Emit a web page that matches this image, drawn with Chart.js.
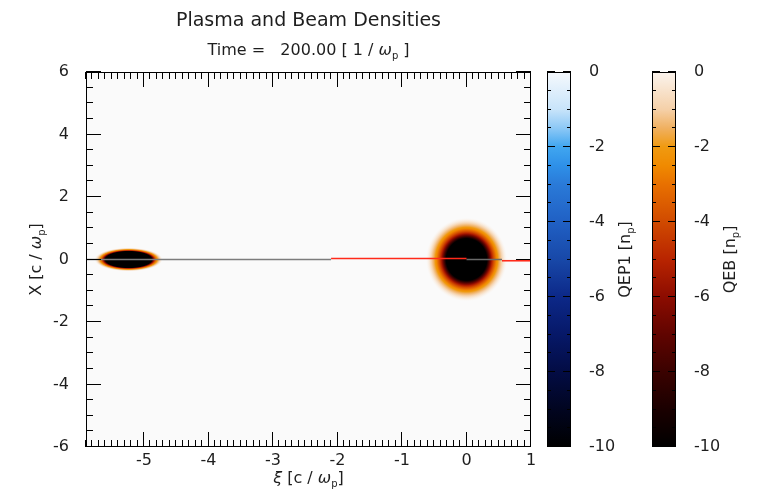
<!DOCTYPE html>
<html><head><meta charset="utf-8">
<script src="https://cdn.jsdelivr.net/npm/chart.js@4/dist/chart.umd.min.js"></script>
<style>
html,body{margin:0;padding:0;background:#fff;}
#wrap{position:relative;width:762px;height:492px;overflow:hidden;}
#wrap canvas{position:absolute;top:0;}
</style></head><body>
<div id="wrap">
<canvas id="main" width="762" height="492" style="left:0;width:762px;height:492px"></canvas>
<canvas id="cb1" width="100" height="492" style="left:540px;width:100px;height:492px"></canvas>
<canvas id="cb2" width="117" height="492" style="left:645px;width:117px;height:492px"></canvas>
</div>
<script>
// ---- data ----
const xiTickValues = [-5, -4, -3, -2, -1, 0, 1];
const xTickValues = [-6, -4, -2, 0, 2, 4, 6];
const cbTickValues = [0, -2, -4, -6, -8, -10];
const xiRange = [-5.9, 1];
const xRange = [-6, 6];
const cbRange = [-10, 0];

const plasmaXi = [-5.9, -2.1];
const plasmaX = [0, 0];
const lineoutXi1 = [-2.1, 0.0];
const lineoutX1 = [0.03, 0.03];
const coreXi = [0.0, 0.55];
const coreX = [0, 0];
const lineoutXi2 = [0.55, 1.0];
const lineoutX2 = [-0.04, -0.04];

const beamXi = [-5.24, 0.0];
const beamX = [0, 0];
const beamHalfXi = [0.53, 0.63];
const beamHalfX = [0.38, 1.34];
const beamPeak = [-207, -32];
const beamEdgeLevel = -0.3;

const cmapLevels = [0, -1, -1.5, -2, -2.5, -3, -4, -5, -6, -7, -8, -9, -10];
const qep1Colors = ['#f6f9fd','#c8e4fa','#8cc8f6','#40a6f0','#2e90e8','#2a7ad8','#2060c4','#1848a8','#0c2888','#061868','#030c44','#010520','#000000'];
const qebColors  = ['#fbf4ee','#f5d0a8','#f0b060','#f09a10','#f08a00','#e87000','#d04a00','#b82400','#8c0c00','#600400','#3a0200','#1a0000','#000000'];

const titleText = 'Plasma and Beam Densities';
const FONT = "'DejaVu Sans', 'Liberation Sans', sans-serif";
const TXT = '#1e1e1e';

// ---- helpers ----
function segFont(seg, size) {
  const s = seg[1] === 'sub' ? Math.round(size * 0.62) : size;
  return (seg[1] === 'it' ? 'italic ' : '') + s + 'px ' + FONT;
}
function drawRich(ctx, segs, x, y, size, align) {
  let total = 0;
  const ws = segs.map(seg => { ctx.font = segFont(seg, size); const w = ctx.measureText(seg[0]).width; total += w; return w; });
  let cx = align === 'center' ? x - total / 2 : x;
  ctx.textAlign = 'left';
  ctx.textBaseline = 'alphabetic';
  segs.forEach((seg, i) => {
    ctx.font = segFont(seg, size);
    ctx.fillText(seg[0], cx, seg[1] === 'sub' ? y + size * 0.22 : y);
    cx += ws[i];
  });
}
function hexA(hex, a) {
  const n = parseInt(hex.slice(1), 16);
  return 'rgba(' + (n >> 16) + ',' + ((n >> 8) & 255) + ',' + (n & 255) + ',' + a + ')';
}

// ---- main chart plugin ----
const mainDecor = {
  id: 'mainDecor',
  beforeDraw(chart) {
    const {ctx, chartArea: a} = chart;
    ctx.save();
    ctx.fillStyle = '#fafafa';
    ctx.fillRect(a.left, a.top, a.right - a.left, a.bottom - a.top);
    ctx.restore();
  },
  beforeDatasetsDraw(chart) {
    const {ctx, chartArea: a} = chart;
    const xs = chart.scales.x, ys = chart.scales.y;
    ctx.save();
    ctx.beginPath();
    ctx.rect(a.left, a.top, a.right - a.left, a.bottom - a.top);
    ctx.clip();
    for (let b = 0; b < beamXi.length; b++) {
      const cx = xs.getPixelForValue(beamXi[b]);
      const cy = ys.getPixelForValue(beamX[b]);
      const rx = Math.abs(xs.getPixelForValue(beamXi[b] + beamHalfXi[b]) - cx);
      const ry = Math.abs(ys.getPixelForValue(beamX[b] + beamHalfX[b]) - cy);
      ctx.save();
      ctx.translate(cx, cy);
      ctx.scale(rx, ry);
      const g = ctx.createRadialGradient(0, 0, 0, 0, 0, 1);
      const lnEdge = Math.log(beamPeak[b] / beamEdgeLevel);
      g.addColorStop(0, qebColors[qebColors.length - 1]);
      for (let i = cmapLevels.length - 1; i >= 1; i--) {
        const r = Math.sqrt(Math.log(beamPeak[b] / cmapLevels[i]) / lnEdge);
        g.addColorStop(Math.min(1, Math.max(0, r)), qebColors[i]);
      }
      g.addColorStop(1, hexA(qebColors[0], 0));
      ctx.fillStyle = g;
      ctx.beginPath();
      ctx.arc(0, 0, 1, 0, Math.PI * 2);
      ctx.fill();
      ctx.restore();
    }
    ctx.restore();
  },
  afterDraw(chart) {
    const {ctx, chartArea: a} = chart;
    const xs = chart.scales.x, ys = chart.scales.y;
    ctx.save();
    ctx.strokeStyle = '#000';
    ctx.lineWidth = 1;
    ctx.strokeRect(a.left + 0.5, a.top + 0.5, a.right - a.left - 1, a.bottom - a.top - 1);
    ctx.beginPath();
    for (let k = Math.ceil(xiRange[0] * 10); k <= Math.floor(xiRange[1] * 10); k++) {
      const v = k / 10;
      const major = xiTickValues.includes(v);
      const px = Math.round(xs.getPixelForValue(v)) - 0.5;
      const len = major ? 15 : 7;
      ctx.moveTo(px, a.bottom); ctx.lineTo(px, a.bottom - len);
      ctx.moveTo(px, a.top); ctx.lineTo(px, a.top + len);
    }
    for (let k = xRange[0] * 2; k <= xRange[1] * 2; k++) {
      const v = k / 2;
      const major = xTickValues.includes(v);
      const py = Math.round(ys.getPixelForValue(v)) - 0.5;
      const len = major ? 15 : 7;
      ctx.moveTo(a.left, py); ctx.lineTo(a.left + len, py);
      ctx.moveTo(a.right, py); ctx.lineTo(a.right - len, py);
    }
    ctx.stroke();
    ctx.fillStyle = TXT;
    const mid = (a.left + a.right) / 2;
    ctx.font = '19px ' + FONT;
    ctx.textAlign = 'center';
    ctx.textBaseline = 'alphabetic';
    ctx.fillText(titleText, mid, 26);
    drawRich(ctx, [['Time =   200.00 [ 1 / ', ''], ['ω', 'it'], ['p', 'sub'], [' ]', '']], mid, 55, 16, 'center');
    drawRich(ctx, [['ξ', 'it'], [' [c / ', ''], ['ω', 'it'], ['p', 'sub'], [']', '']], mid, 483, 16, 'center');
    ctx.save();
    ctx.translate(41, (a.top + a.bottom) / 2);
    ctx.rotate(-Math.PI / 2);
    drawRich(ctx, [['X [c / ', ''], ['ω', 'it'], ['p', 'sub'], [']', '']], 0, 0, 16, 'center');
    ctx.restore();
    ctx.restore();
  }
};

function lineDs(xiArr, xArr, color) {
  return {
    data: xiArr.map((v, i) => ({x: v, y: xArr[i]})),
    showLine: true, borderColor: color, borderWidth: 1.6, pointRadius: 0, fill: false
  };
}

new Chart(document.getElementById('main'), {
  type: 'scatter',
  data: {
    datasets: [
      lineDs(plasmaXi, plasmaX, '#7c7c7c'),
      lineDs(lineoutXi1, lineoutX1, '#ff2a1a'),
      lineDs(coreXi, coreX, '#6a6a6a'),
      lineDs(lineoutXi2, lineoutX2, '#ff2a1a')
    ]
  },
  options: {
    responsive: false, animation: false, events: [],
    layout: {padding: {left: 0, top: 72, right: 231, bottom: 0}},
    plugins: {legend: {display: false}, tooltip: {enabled: false}, title: {display: false}},
    scales: {
      x: {
        type: 'linear', min: xiRange[0], max: xiRange[1],
        afterBuildTicks: s => { s.ticks = xiTickValues.map(v => ({value: v})); },
        afterFit: s => { s.height = 45; },
        grid: {display: false}, border: {display: false},
        ticks: {padding: -4, color: TXT, font: {family: FONT, size: 16}, maxRotation: 0, autoSkip: false}
      },
      y: {
        type: 'linear', min: xRange[0], max: xRange[1],
        afterBuildTicks: s => { s.ticks = xTickValues.map(v => ({value: v})); },
        afterFit: s => { s.width = 86; },
        grid: {display: false}, border: {display: false},
        ticks: {padding: 9, color: TXT, font: {family: FONT, size: 16}, autoSkip: false}
      }
    }
  },
  plugins: [mainDecor]
});

// ---- colorbars ----
function makeColorbar(id, colors, titleSegs, titleX, canvasW) {
  const cbDecor = {
    id: 'cbDecor' + id,
    afterDraw(chart) {
      const {ctx, chartArea: a} = chart;
      const ys = chart.scales.y;
      ctx.save();
      ctx.strokeStyle = '#000';
      ctx.lineWidth = 1;
      ctx.strokeRect(a.left + 0.5, a.top + 0.5, a.right - a.left - 1, a.bottom - a.top - 1);
      ctx.beginPath();
      for (let k = cbRange[0] * 2; k <= cbRange[1] * 2; k++) {
        const v = k / 2;
        const major = cbTickValues.includes(v);
        const py = Math.round(ys.getPixelForValue(v)) - 0.5;
        const len = major ? 8 : 4;
        ctx.moveTo(a.left, py); ctx.lineTo(a.left + len, py);
        ctx.moveTo(a.right, py); ctx.lineTo(a.right - len, py);
      }
      ctx.stroke();
      ctx.fillStyle = TXT;
      ctx.translate(titleX, (a.top + a.bottom) / 2);
      ctx.rotate(-Math.PI / 2);
      drawRich(ctx, titleSegs, 0, 0, 16, 'center');
      ctx.restore();
    }
  };
  new Chart(document.getElementById(id), {
    type: 'bar',
    data: {
      labels: ['cb'],
      datasets: [{
        data: [[cbRange[0], cbRange[1]]],
        barPercentage: 1, categoryPercentage: 1, borderWidth: 0,
        backgroundColor: c => {
          const a = c.chart.chartArea;
          if (!a) return colors[3];
          const ys = c.chart.scales.y;
          const y0 = ys.getPixelForValue(cbRange[1]);
          const y1 = ys.getPixelForValue(cbRange[0]);
          const g = c.chart.ctx.createLinearGradient(0, y0, 0, y1);
          cmapLevels.forEach((L, i) => g.addColorStop((cbRange[1] - L) / (cbRange[1] - cbRange[0]), colors[i]));
          return g;
        }
      }]
    },
    options: {
      responsive: false, animation: false, events: [],
      layout: {padding: {left: 7, top: 72, right: 0, bottom: 45}},
      plugins: {legend: {display: false}, tooltip: {enabled: false}},
      scales: {
        x: {display: false},
        y: {
          position: 'right', min: cbRange[0], max: cbRange[1],
          afterBuildTicks: s => { s.ticks = cbTickValues.map(v => ({value: v})); },
          afterFit: s => { s.width = canvasW - 7 - 24; },
          grid: {display: false}, border: {display: false},
          ticks: {padding: 10, color: TXT, font: {family: FONT, size: 16}, autoSkip: false}
        }
      }
    },
    plugins: [cbDecor]
  });
}
makeColorbar('cb1', qep1Colors, [['QEP1 [n', ''], ['p', 'sub'], [']', '']], 630 - 540, 100);
makeColorbar('cb2', qebColors, [['QEB [n', ''], ['p', 'sub'], [']', '']], 735 - 645, 117);
</script>
</body></html>
